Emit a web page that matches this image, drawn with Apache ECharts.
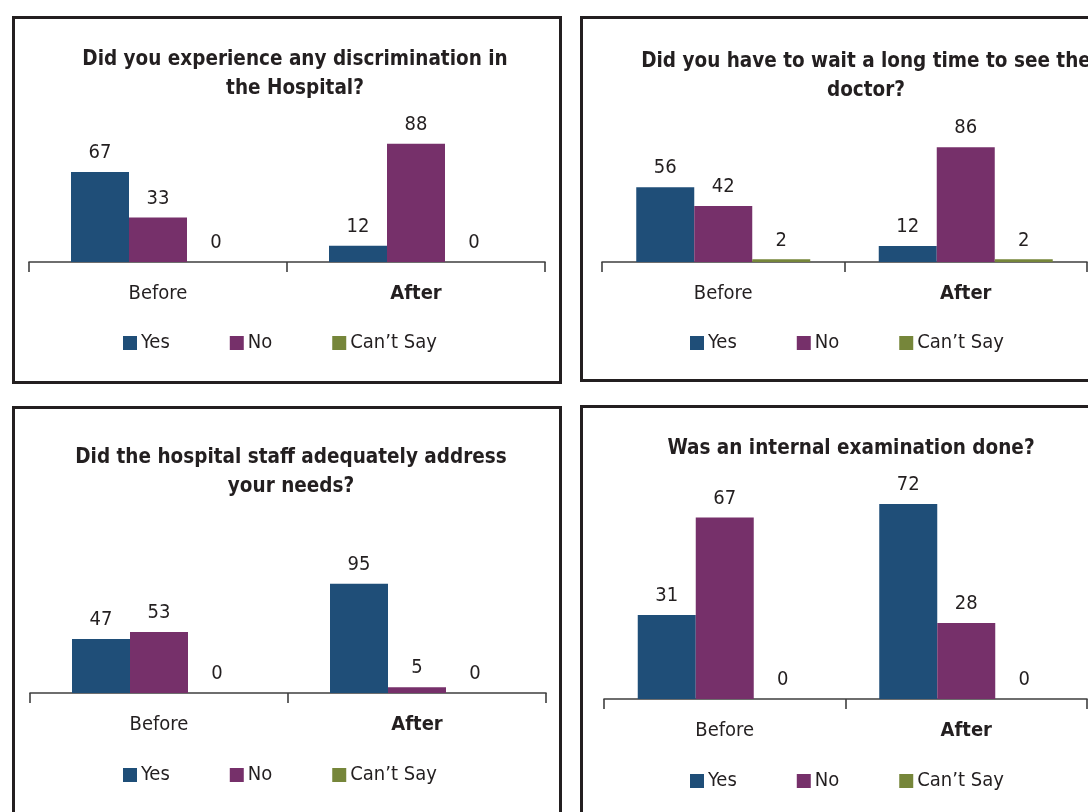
<!DOCTYPE html>
<html>
<head>
<meta charset="utf-8">
<script src="https://cdn.jsdelivr.net/npm/echarts@6/dist/echarts.min.js"></script>
<style>
html,body{margin:0;padding:0;background:#fff;overflow:hidden;}
#c{width:1088px;height:812px;}
</style>
</head>
<body>
<div id="c"></div>
<script>
const categories = ['Before', 'After'];
const seriesNames = ['Yes', 'No', "Can\u2019t Say"];
const titles = [
  'Did you experience any discrimination in\nthe Hospital?',
  'Did you have to wait a long time to see the\ndoctor?',
  'Did the hospital staff adequately address\nyour needs?',
  'Was an internal examination done?'
];
const discrYes = [67, 12];
const discrNo = [33, 88];
const discrCant = [0, 0];
const waitYes = [56, 12];
const waitNo = [42, 86];
const waitCant = [2, 2];
const staffYes = [47, 95];
const staffNo = [53, 5];
const staffCant = [0, 0];
const examYes = [31, 72];
const examNo = [67, 28];
const examCant = [0, 0];

const panelData = [
  [discrYes, discrNo, discrCant],
  [waitYes, waitNo, waitCant],
  [staffYes, staffNo, staffCant],
  [examYes, examNo, examCant]
];

const colors = ['#1f4e78', '#76306a', '#76863a'];
const FONT = "'DejaVu Sans Condensed', 'Liberation Sans Narrow', 'DejaVu Sans', sans-serif";
const TXT = '#231f20';

// layout
const grids = [
  {left: 29, width: 516, top: 127.5, height: 134.5},
  {left: 602, width: 485, top: 128.5, height: 133.5},
  {left: 30, width: 516, top: 578, height: 115},
  {left: 604, width: 483, top: 428, height: 271}
];
const titlePos = [
  {x: 290, y: 40}, {x: 861, y: 42}, {x: 286, y: 438}, {x: 846, y: 429}
];
const legendPos = [
  {x: 118, y: 328}, {x: 685, y: 328}, {x: 118, y: 760}, {x: 685, y: 766}
];
const borders = [
  {x: 13.5, y: 17.5, w: 547, h: 365},
  {x: 581.5, y: 17.5, w: 600, h: 363},
  {x: 13.5, y: 407.5, w: 547, h: 500},
  {x: 581.5, y: 406.5, w: 600, h: 500}
];

const option = {
  animation: false,
  textStyle: {fontFamily: FONT},
  color: colors,
  title: titles.map((t, i) => ({
    text: t,
    left: titlePos[i].x,
    top: titlePos[i].y,
    textAlign: 'center',
    textStyle: {fontFamily: FONT, fontWeight: 'bold', fontSize: 20.5, lineHeight: 29, color: TXT}
  })),
  legend: legendPos.map(p => ({
    data: seriesNames,
    left: p.x,
    top: p.y,
    icon: 'rect',
    itemWidth: 14,
    itemHeight: 14,
    itemGap: 60,
    textStyle: {fontFamily: FONT, fontSize: 20, color: TXT, padding: [0, 0, 0, -1]}
  })),
  grid: grids.map(g => ({left: g.left, top: g.top, width: g.width, height: g.height})),
  xAxis: grids.map((g, i) => ({
    type: 'category',
    gridIndex: i,
    data: categories.map((c, k) => k === 1 ? {value: c, textStyle: {fontWeight: 'bold'}} : c),
    axisLine: {lineStyle: {color: '#3f3f3f', width: 1.6}},
    axisTick: {show: true, length: 10, lineStyle: {color: '#3f3f3f', width: 1.6}},
    axisLabel: {fontFamily: FONT, fontSize: 20, color: TXT, margin: 22}
  })),
  yAxis: grids.map((g, i) => ({
    type: 'value',
    gridIndex: i,
    min: 0,
    max: 100,
    show: false,
    splitLine: {show: false}
  })),
  series: [],
  graphic: borders.map(b => ({
    type: 'rect',
    shape: {x: b.x, y: b.y, width: b.w, height: b.h},
    style: {fill: 'none', stroke: '#231f20', lineWidth: 3},
    z: 100
  }))
};

panelData.forEach((sets, i) => {
  sets.forEach((vals, s) => {
    option.series.push({
      type: 'bar',
      name: seriesNames[s],
      xAxisIndex: i,
      yAxisIndex: i,
      data: vals,
      barWidth: 58,
      barGap: '0%',
      itemStyle: {color: colors[s]},
      label: {
        show: true,
        position: 'top',
        distance: 9,
        fontFamily: FONT,
        fontSize: 20,
        color: TXT
      }
    });
  });
});

const chart = echarts.init(document.getElementById('c'), null, {renderer: 'canvas'});
chart.setOption(option);
</script>
</body>
</html>
